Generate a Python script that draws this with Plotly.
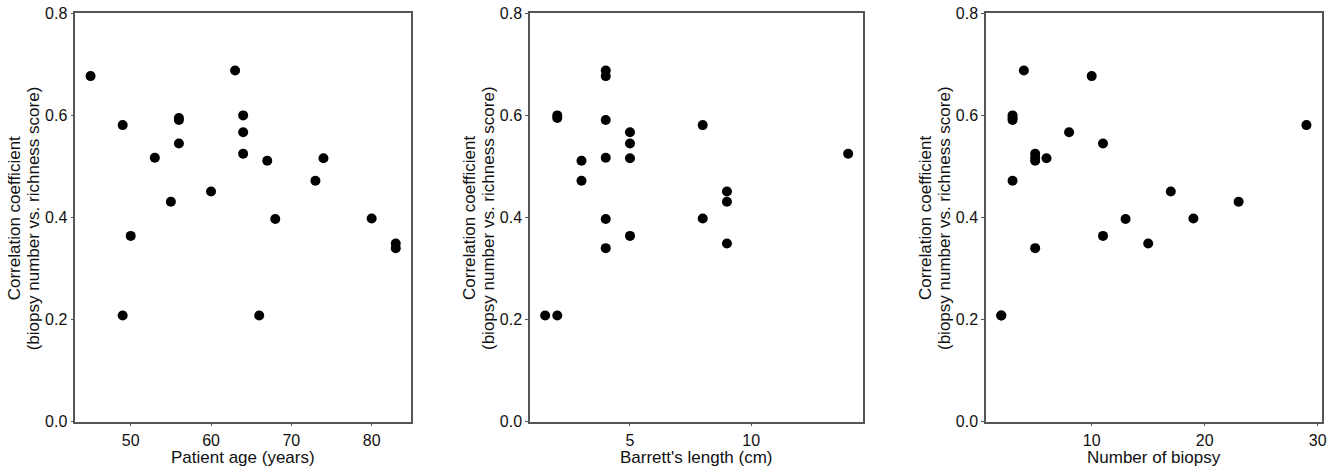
import plotly.graph_objects as go

# Correlation coefficient (biopsy number vs. richness score), one per patient
corr = [0.688, 0.677, 0.600, 0.595, 0.591, 0.581, 0.567, 0.545, 0.525, 0.517, 0.516,
        0.511, 0.472, 0.451, 0.431, 0.398, 0.397, 0.364, 0.349, 0.340, 0.208, 0.208]
# Patient age (years)
age = [63, 45, 64, 56, 56, 49, 64, 56, 64, 53, 74,
       67, 73, 60, 55, 80, 68, 50, 83, 83, 49, 66]
# Barrett's length (cm)
barrett_len = [4, 4, 2, 2, 4, 8, 5, 5, 14, 4, 5,
               3, 3, 9, 9, 8, 4, 5, 9, 4, 1.5, 2]
# Number of biopsy
n_biopsy = [4, 10, 3, 3, 3, 29, 8, 11, 5, 5, 6,
            5, 3, 17, 23, 19, 13, 11, 15, 5, 2, 2]

xtitles = ["Patient age (years)", "Barrett's length (cm)", "Number of biopsy"]
ytitle_lines = ["Correlation coefficient", "(biopsy number vs. richness score)"]
xticks = [[50, 60, 70, 80], [5, 10], [10, 20, 30]]
xranges = [[43.1, 84.9], [0.875, 14.625], [0.65, 30.35]]
yticks = [0.0, 0.2, 0.4, 0.6, 0.8]
ytick_text = ["0.0", "0.2", "0.4", "0.6", "0.8"]

W, H = 1340, 468
px_left = [75.3, 530.0, 986.0]
px_right = [411.0, 863.3, 1321.7]
px_top, px_bottom = 13.3, 421.7

FONT = "Arial, Liberation Sans, Helvetica, sans-serif"
LINE = "#555555"
TXT = "#111111"

fig = go.Figure()
xs = [age, barrett_len, n_biopsy]
annotations = []
for i in range(3):
    sfx = "" if i == 0 else str(i + 1)
    fig.add_trace(go.Scatter(
        x=xs[i], y=corr, mode="markers",
        marker=dict(color="black", size=10, line=dict(width=0)),
        xaxis="x" + sfx, yaxis="y" + sfx, showlegend=False, hoverinfo="x+y"))
    axis_common = dict(showline=True, linecolor=LINE, linewidth=1.5, mirror=True,
                       ticks="outside", ticklen=3, tickwidth=1, tickcolor=LINE,
                       showgrid=False, zeroline=False, automargin=False,
                       tickfont=dict(family=FONT, size=16, color=TXT))
    fig.layout["xaxis" + sfx] = dict(
        axis_common,
        domain=[px_left[i] / W, px_right[i] / W],
        range=xranges[i], tickvals=xticks[i], anchor="y" + sfx)
    fig.layout["yaxis" + sfx] = dict(
        axis_common,
        domain=[1 - px_bottom / H, 1 - px_top / H],
        range=[0, 0.8], tickvals=yticks, ticktext=ytick_text, anchor="x" + sfx)
    # x-axis title
    annotations.append(dict(
        text=xtitles[i], xref="paper", yref="paper",
        x=(px_left[i] + px_right[i]) / 2 / W, y=1 - 457 / H,
        xanchor="center", yanchor="middle", showarrow=False,
        font=dict(family=FONT, size=17, color=TXT)))
    # y-axis title (two lines)
    for off, line in zip([-60.5, -41.5], ytitle_lines):
        annotations.append(dict(
            text=line, xref="paper", yref="paper",
            x=(px_left[i] + off) / W, y=1 - 218.5 / H,
            xanchor="center", yanchor="middle", textangle=-90, showarrow=False,
            font=dict(family=FONT, size=17, color=TXT)))

fig.update_layout(width=W, height=H, margin=dict(l=0, r=0, t=0, b=0),
                  paper_bgcolor="white", plot_bgcolor="white",
                  annotations=annotations)
fig.write_html("out.html")
